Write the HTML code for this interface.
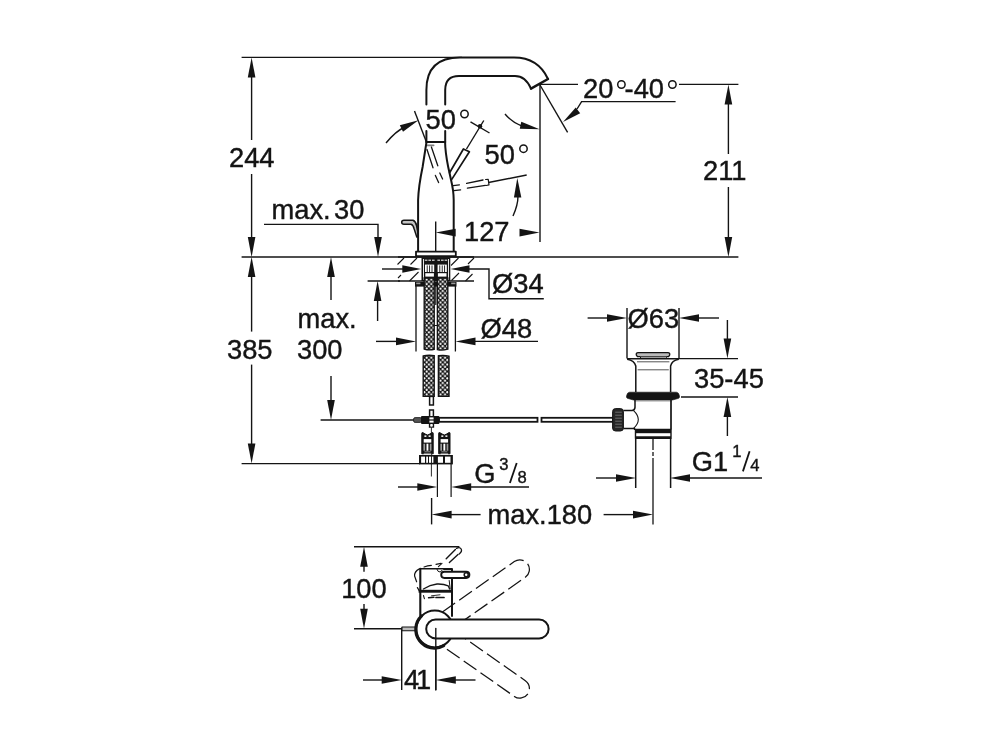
<!DOCTYPE html>
<html><head><meta charset="utf-8"><title>Dimensional drawing</title>
<style>
html,body{margin:0;padding:0;background:#fff;}
body{width:1000px;height:750px;overflow:hidden;}
svg{display:block;will-change:transform;}
text{font-family:"Liberation Sans",sans-serif;fill:#141414;stroke:#141414;stroke-width:0.4px;}
</style></head><body>
<svg width="1000" height="750" viewBox="0 0 1000 750">
<defs>
<pattern id="braid" x="0" y="0" width="4.6" height="4.6" patternUnits="userSpaceOnUse">
<rect width="4.6" height="4.6" fill="#141414"/>
<circle cx="1.15" cy="1.15" r="1.08" fill="#fff"/>
<circle cx="3.45" cy="3.45" r="1.08" fill="#fff"/>
</pattern>
</defs>
<rect width="1000" height="750" fill="#fff"/>
<g id="dims">
<line x1="241.6" y1="57.4" x2="462" y2="57.4" stroke="#141414" stroke-width="1.4" />
<line x1="251.6" y1="70" x2="251.6" y2="140" stroke="#141414" stroke-width="1.4" />
<polygon points="251.60,57.40 255.40,77.40 247.80,77.40" fill="#141414" stroke="none" stroke-width="0"/>
<text x="229" y="167" font-size="27.3" text-anchor="start" >244</text>
<line x1="251.6" y1="174" x2="251.6" y2="245" stroke="#141414" stroke-width="1.4" />
<polygon points="251.60,257.00 247.80,237.00 255.40,237.00" fill="#141414" stroke="none" stroke-width="0"/>
<line x1="241.6" y1="257" x2="738.4" y2="257" stroke="#141414" stroke-width="1.4" />
<polygon points="251.60,257.00 255.40,277.00 247.80,277.00" fill="#141414" stroke="none" stroke-width="0"/>
<line x1="251.6" y1="270" x2="251.6" y2="331.6" stroke="#141414" stroke-width="1.4" />
<text x="227" y="359" font-size="27.3" text-anchor="start" >385</text>
<line x1="251.6" y1="364.6" x2="251.6" y2="450" stroke="#141414" stroke-width="1.4" />
<polygon points="251.60,463.60 247.80,443.60 255.40,443.60" fill="#141414" stroke="none" stroke-width="0"/>
<line x1="241.6" y1="463.6" x2="420" y2="463.6" stroke="#141414" stroke-width="1.4" />
<text x="271.5" y="219.4" font-size="27.3" text-anchor="start" >max.</text>
<text x="334" y="219.4" font-size="27.3" text-anchor="start" >30</text>
<path d="M264 224.4 H378 V240" stroke="#141414" stroke-width="1.4" fill="none" />
<polygon points="378.00,257.00 374.20,237.00 381.80,237.00" fill="#141414" stroke="none" stroke-width="0"/>
<line x1="367.6" y1="281" x2="400" y2="281" stroke="#141414" stroke-width="1.4" />
<polygon points="377.60,281.00 381.40,301.00 373.80,301.00" fill="#141414" stroke="none" stroke-width="0"/>
<line x1="377.6" y1="295" x2="377.6" y2="321" stroke="#141414" stroke-width="1.4" />
<polygon points="331.00,257.00 334.80,277.00 327.20,277.00" fill="#141414" stroke="none" stroke-width="0"/>
<line x1="331" y1="270" x2="331" y2="300" stroke="#141414" stroke-width="1.4" />
<text x="297.5" y="328.4" font-size="27.3" text-anchor="start" >max.</text>
<text x="297" y="359.4" font-size="27.3" text-anchor="start" >300</text>
<line x1="331" y1="376" x2="331" y2="405" stroke="#141414" stroke-width="1.4" />
<polygon points="331.00,420.00 327.20,400.00 334.80,400.00" fill="#141414" stroke="none" stroke-width="0"/>
<line x1="320.6" y1="420" x2="414" y2="420" stroke="#141414" stroke-width="1.4" />
<line x1="540" y1="84.4" x2="578" y2="84.4" stroke="#141414" stroke-width="1.4" />
<line x1="679" y1="84.4" x2="738.4" y2="84.4" stroke="#141414" stroke-width="1.4" />
<polygon points="728.40,84.40 732.20,104.40 724.60,104.40" fill="#141414" stroke="none" stroke-width="0"/>
<line x1="728.4" y1="98" x2="728.4" y2="154" stroke="#141414" stroke-width="1.4" />
<text x="703" y="180" font-size="27.3" text-anchor="start" >211</text>
<line x1="728.4" y1="187" x2="728.4" y2="245" stroke="#141414" stroke-width="1.4" />
<polygon points="728.40,257.00 724.60,237.00 732.20,237.00" fill="#141414" stroke="none" stroke-width="0"/>
<text x="583" y="98" font-size="27.3" text-anchor="start" >20</text>
<text x="624.6" y="98" font-size="27.3" text-anchor="start" >-40</text>
<circle cx="621.4" cy="84.5" r="3.7" fill="none" stroke="#141414" stroke-width="1.5"/>
<circle cx="672.4" cy="84.5" r="3.7" fill="none" stroke="#141414" stroke-width="1.5"/>
<path d="M675.6 101.6 H581.6 L577 109" stroke="#141414" stroke-width="1.4" fill="none" />
<polygon points="563.00,122.00 575.76,107.47 580.19,113.14" fill="#141414" stroke="none" stroke-width="0"/>
<line x1="540" y1="85" x2="567.6" y2="132.4" stroke="#141414" stroke-width="1.4" />
<line x1="540" y1="85" x2="540" y2="242" stroke="#141414" stroke-width="1.4" />
<line x1="435.7" y1="221.6" x2="435.7" y2="252" stroke="#141414" stroke-width="1.4" />
<polygon points="435.70,232.60 455.70,228.80 455.70,236.40" fill="#141414" stroke="none" stroke-width="0"/>
<text x="464" y="241.4" font-size="27.3" text-anchor="start" >127</text>
<polygon points="539.50,232.60 519.50,236.40 519.50,228.80" fill="#141414" stroke="none" stroke-width="0"/>
<text x="425.5" y="129" font-size="27.3" text-anchor="start" >50</text>
<circle cx="464.5" cy="114" r="3.7" fill="none" stroke="#141414" stroke-width="1.5"/>
<line x1="414.5" y1="111" x2="426.2" y2="141.5" stroke="#141414" stroke-width="1.4" />
<path d="M386 143 Q 396 131 404 127.5" stroke="#141414" stroke-width="1.4" fill="none" />
<polygon points="418.50,120.20 403.00,131.76 399.84,125.29" fill="#141414" stroke="none" stroke-width="0"/>
<line x1="470.5" y1="121.8" x2="489.5" y2="133" stroke="#141414" stroke-width="1.4" />
<line x1="483.8" y1="120.5" x2="466.5" y2="149" stroke="#141414" stroke-width="1.4" />
<circle cx="480" cy="126.3" r="2.2" fill="#141414" stroke="#141414" stroke-width="0"/>
<path d="M505 114 Q 512 122.4 522 126" stroke="#141414" stroke-width="1.4" fill="none" />
<polygon points="539.60,129.30 519.76,128.86 521.30,121.63" fill="#141414" stroke="none" stroke-width="0"/>
<text x="484.5" y="163.6" font-size="27.3" text-anchor="start" >50</text>
<circle cx="523.5" cy="148.7" r="3.7" fill="none" stroke="#141414" stroke-width="1.5"/>
<line x1="488.5" y1="182.5" x2="526.7" y2="175" stroke="#141414" stroke-width="1.4" />
<path d="M513 216 Q 518 205 518 196" stroke="#141414" stroke-width="1.4" fill="none" />
<polygon points="517.30,178.00 521.34,197.43 513.94,197.56" fill="#141414" stroke="none" stroke-width="0"/>
<line x1="382" y1="269" x2="403" y2="269" stroke="#141414" stroke-width="1.4" />
<polygon points="421.30,269.00 402.30,272.80 402.30,265.20" fill="#141414" stroke="none" stroke-width="0"/>
<polygon points="450.50,269.00 469.50,265.20 469.50,272.80" fill="#141414" stroke="none" stroke-width="0"/>
<path d="M468 269 H489 V298.7 H543.8" stroke="#141414" stroke-width="1.4" fill="none" />
<text x="492" y="293" font-size="27.3" text-anchor="start" >&#216;34</text>
<line x1="376" y1="341.4" x2="397" y2="341.4" stroke="#141414" stroke-width="1.4" />
<polygon points="416.00,341.40 396.00,345.20 396.00,337.60" fill="#141414" stroke="none" stroke-width="0"/>
<polygon points="455.50,341.40 475.50,337.60 475.50,345.20" fill="#141414" stroke="none" stroke-width="0"/>
<line x1="474" y1="341.4" x2="538" y2="341.4" stroke="#141414" stroke-width="1.4" />
<text x="480.5" y="337.6" font-size="27.3" text-anchor="start" >&#216;48</text>
<line x1="398" y1="487" x2="418" y2="487" stroke="#141414" stroke-width="1.4" />
<polygon points="437.30,487.00 417.30,490.80 417.30,483.20" fill="#141414" stroke="none" stroke-width="0"/>
<polygon points="451.20,487.00 471.20,483.20 471.20,490.80" fill="#141414" stroke="none" stroke-width="0"/>
<line x1="470" y1="487" x2="529" y2="487" stroke="#141414" stroke-width="1.4" />
<text x="474.2" y="482.6" font-size="27.3" text-anchor="start" >G</text>
<text x="499.3" y="469.6" font-size="16.6" text-anchor="start" >3</text>
<line x1="509.9" y1="483.0" x2="516.7" y2="463.0" stroke="#141414" stroke-width="1.8" />
<text x="517.4" y="482.7" font-size="16.6" text-anchor="start" >8</text>
<line x1="431.6" y1="498" x2="431.6" y2="524.4" stroke="#141414" stroke-width="1.4" />
<polygon points="431.60,514.60 451.60,510.80 451.60,518.40" fill="#141414" stroke="none" stroke-width="0"/>
<line x1="450" y1="514.6" x2="480.6" y2="514.6" stroke="#141414" stroke-width="1.4" />
<text x="487.5" y="524" font-size="27.3" text-anchor="start" >max.180</text>
<line x1="603.6" y1="514.6" x2="634" y2="514.6" stroke="#141414" stroke-width="1.4" />
<polygon points="653.00,514.60 633.00,518.40 633.00,510.80" fill="#141414" stroke="none" stroke-width="0"/>
<line x1="587.6" y1="318" x2="608" y2="318" stroke="#141414" stroke-width="1.4" />
<polygon points="627.00,318.00 607.00,321.80 607.00,314.20" fill="#141414" stroke="none" stroke-width="0"/>
<polygon points="679.00,318.00 699.00,314.20 699.00,321.80" fill="#141414" stroke="none" stroke-width="0"/>
<line x1="698" y1="318" x2="719" y2="318" stroke="#141414" stroke-width="1.4" />
<line x1="627" y1="308" x2="627" y2="358.6" stroke="#141414" stroke-width="1.4" />
<line x1="679" y1="308" x2="679" y2="358.6" stroke="#141414" stroke-width="1.4" />
<text x="627.5" y="328" font-size="27.3" text-anchor="start" >&#216;63</text>
<line x1="727.4" y1="320" x2="727.4" y2="340" stroke="#141414" stroke-width="1.4" />
<polygon points="727.40,358.60 723.60,338.60 731.20,338.60" fill="#141414" stroke="none" stroke-width="0"/>
<line x1="679" y1="358.6" x2="738" y2="358.6" stroke="#141414" stroke-width="1.4" />
<line x1="681" y1="397" x2="738" y2="397" stroke="#141414" stroke-width="1.4" />
<polygon points="727.40,397.00 731.20,417.00 723.60,417.00" fill="#141414" stroke="none" stroke-width="0"/>
<line x1="727.4" y1="415" x2="727.4" y2="436" stroke="#141414" stroke-width="1.4" />
<text x="694" y="388.4" font-size="27.3" text-anchor="start" >35-45</text>
<line x1="596" y1="478" x2="617" y2="478" stroke="#141414" stroke-width="1.4" />
<polygon points="636.00,478.00 616.00,481.80 616.00,474.20" fill="#141414" stroke="none" stroke-width="0"/>
<polygon points="670.00,478.00 690.00,474.20 690.00,481.80" fill="#141414" stroke="none" stroke-width="0"/>
<line x1="689" y1="478" x2="762" y2="478" stroke="#141414" stroke-width="1.4" />
<text x="691.7" y="471.0" font-size="27.3" text-anchor="start" >G1</text>
<text x="732.2" y="457.4" font-size="16.6" text-anchor="start" >1</text>
<line x1="742.9" y1="471.4" x2="749.6" y2="451.2" stroke="#141414" stroke-width="1.8" />
<text x="750.2" y="470.9" font-size="16.6" text-anchor="start" >4</text>
<line x1="354" y1="546.8" x2="459.4" y2="546.8" stroke="#141414" stroke-width="1.4" />
<polygon points="364.00,546.80 367.80,566.80 360.20,566.80" fill="#141414" stroke="none" stroke-width="0"/>
<line x1="364" y1="560" x2="364" y2="571.7" stroke="#141414" stroke-width="1.4" />
<text x="341.2" y="597.7" font-size="27.3" text-anchor="start" >100</text>
<line x1="364" y1="604" x2="364" y2="612" stroke="#141414" stroke-width="1.4" />
<polygon points="364.00,628.70 360.20,608.70 367.80,608.70" fill="#141414" stroke="none" stroke-width="0"/>
<line x1="354" y1="628.7" x2="402" y2="628.7" stroke="#141414" stroke-width="1.4" />
<line x1="401.7" y1="627.6" x2="401.7" y2="690" stroke="#141414" stroke-width="1.4" />
<line x1="435.8" y1="628.4" x2="435.8" y2="690" stroke="#141414" stroke-width="1.4" />
<line x1="363" y1="680" x2="384" y2="680" stroke="#141414" stroke-width="1.4" />
<polygon points="401.70,680.00 381.70,683.80 381.70,676.20" fill="#141414" stroke="none" stroke-width="0"/>
<polygon points="435.80,680.00 455.80,676.20 455.80,683.80" fill="#141414" stroke="none" stroke-width="0"/>
<line x1="455" y1="680" x2="475.5" y2="680" stroke="#141414" stroke-width="1.4" />
<text x="404" y="689.3" font-size="27.3" text-anchor="start" >4<tspan dx="-3.2">1</tspan></text>
</g>
<g id="faucet" stroke-linecap="round" stroke-linejoin="round">
<path d="M426.4 142 V131" stroke="#141414" stroke-width="2.0" fill="none" />
<path d="M426.4 104.5 V90 Q426.4 57.6 460 57.6 H514 Q538 57.6 548 79" stroke="#141414" stroke-width="2.0" fill="none" />
<path d="M445.2 142 V131" stroke="#141414" stroke-width="2.0" fill="none" />
<path d="M445.2 104.5 V90 Q445.2 76 459 76 H515 Q525.5 76 531 88.6" stroke="#141414" stroke-width="2.0" fill="none" />
<line x1="531" y1="88.6" x2="548" y2="79" stroke="#141414" stroke-width="2.4" />
<line x1="426.4" y1="142" x2="445.2" y2="142" stroke="#141414" stroke-width="2.0" />
<path d="M426.5 142 L422.6 167 Q418.6 186 418.1 200 V252" stroke="#141414" stroke-width="2.0" fill="none" />
<path d="M445.1 142 Q445.2 152 448.2 167 L451 179.8 Q453.7 191 453.7 200 V252" stroke="#141414" stroke-width="2.0" fill="none" />
<rect x="416.0" y="251.6" width="39.8" height="4.6" fill="#fff" stroke="#141414" stroke-width="1.8" />
<path d="M449.6 172.8 L463.4 149 L469.4 151.8 L451.6 179.6" stroke="#141414" stroke-width="1.7" fill="none" />
<line x1="427" y1="145.3" x2="433.6" y2="145.3" stroke="#141414" stroke-width="1.8" stroke-opacity="0.55"/>
<line x1="427.0" y1="149.5" x2="433.0" y2="167.8" stroke="#141414" stroke-width="1.3" />
<line x1="431.4" y1="147.0" x2="437.8" y2="165.8" stroke="#141414" stroke-width="1.3" />
<line x1="435.4" y1="175.4" x2="438.6" y2="182.6" stroke="#141414" stroke-width="1.3" />
<line x1="439.8" y1="173.0" x2="442.6" y2="179.0" stroke="#141414" stroke-width="1.3" />
<line x1="453.2" y1="185.7" x2="459.4" y2="184.8" stroke="#141414" stroke-width="1.3" />
<line x1="466.6" y1="183.4" x2="483.0" y2="180.0" stroke="#141414" stroke-width="1.3" />
<line x1="453.8" y1="190.7" x2="460.6" y2="189.8" stroke="#141414" stroke-width="1.3" />
<line x1="467.4" y1="188.2" x2="485.4" y2="185.4" stroke="#141414" stroke-width="1.3" />
<path d="M485.6 179.5 L488.2 179.3 L489.0 184.9 L486.2 185.5" stroke="#141414" stroke-width="1.2" fill="none" />
<path d="M418 237 C417.6 228 417 221.8 413 220.2 H404 Q401.7 220.2 401.7 222.2 Q401.7 224.2 404 224.2 H411 Q413.2 224.8 414.2 229 L416.8 237" stroke="#141414" stroke-width="1.5" fill="#c4c4c4" />
</g>
<g id="under">
<line x1="398" y1="257" x2="474" y2="257" stroke="#141414" stroke-width="1.6" />
<line x1="398" y1="281" x2="474" y2="281" stroke="#141414" stroke-width="1.6" />
<line x1="397.5" y1="264.5" x2="404" y2="258" stroke="#141414" stroke-width="1.1" />
<line x1="410.5" y1="264.5" x2="417" y2="258" stroke="#141414" stroke-width="1.1" />
<line x1="398" y1="278" x2="401" y2="275" stroke="#141414" stroke-width="1.1" />
<line x1="409.5" y1="281" x2="418.5" y2="272" stroke="#141414" stroke-width="1.1" />
<line x1="451" y1="265.5" x2="458.5" y2="258" stroke="#141414" stroke-width="1.1" />
<line x1="468" y1="264" x2="474" y2="258" stroke="#141414" stroke-width="1.1" />
<line x1="451.5" y1="280.5" x2="459" y2="273" stroke="#141414" stroke-width="1.1" />
<line x1="465.5" y1="281" x2="472.5" y2="274" stroke="#141414" stroke-width="1.1" />
<rect x="421.5" y="257.5" width="28.8" height="23.5" fill="#141414" stroke="none" stroke-width="0" />
<rect x="423.0" y="259" width="0.9" height="21" fill="#fff" stroke="none" stroke-width="0" />
<rect x="448.0" y="259" width="0.9" height="21" fill="#fff" stroke="none" stroke-width="0" />
<line x1="424.8" y1="260.2" x2="434.6" y2="260.2" stroke="#fff" stroke-width="1" stroke-dasharray="2.6 1"/>
<line x1="437.4" y1="260.2" x2="447.2" y2="260.2" stroke="#fff" stroke-width="1" stroke-dasharray="2.6 1"/>
<rect x="425.0" y="264.6" width="9.2" height="7.4" fill="#fff" stroke="none" stroke-width="0" />
<rect x="426.75" y="265.4" width="0.9" height="6.6" fill="#141414" stroke="none" stroke-width="0" />
<rect x="429.15000000000003" y="265.4" width="0.9" height="6.6" fill="#141414" stroke="none" stroke-width="0" />
<rect x="431.55" y="265.4" width="0.9" height="6.6" fill="#141414" stroke="none" stroke-width="0" />
<rect x="425.3" y="273.2" width="8.6" height="3.4" fill="#fff" stroke="none" stroke-width="0" />
<rect x="437.6" y="264.6" width="9.2" height="7.4" fill="#fff" stroke="none" stroke-width="0" />
<rect x="439.35" y="265.4" width="0.9" height="6.6" fill="#141414" stroke="none" stroke-width="0" />
<rect x="441.75000000000006" y="265.4" width="0.9" height="6.6" fill="#141414" stroke="none" stroke-width="0" />
<rect x="444.15000000000003" y="265.4" width="0.9" height="6.6" fill="#141414" stroke="none" stroke-width="0" />
<rect x="437.90000000000003" y="273.2" width="8.6" height="3.4" fill="#fff" stroke="none" stroke-width="0" />
<rect x="415" y="282" width="41.5" height="4.6" fill="#141414" stroke="none" stroke-width="0" />
<rect x="416.2" y="282.6" width="4.2" height="1.6" fill="#9a9a9a" stroke="none" stroke-width="0" />
<rect x="451.2" y="282.6" width="4.2" height="1.6" fill="#9a9a9a" stroke="none" stroke-width="0" />
<line x1="416" y1="286" x2="416" y2="351.5" stroke="#141414" stroke-width="1.3" />
<line x1="455.4" y1="286" x2="455.4" y2="351.5" stroke="#141414" stroke-width="1.3" />
<path d="M424.2 278 H434.2 V349.4 Q429 350.6 424.2 349 Z" stroke="#141414" stroke-width="1.4" fill="url(#braid)" />
<path d="M437.4 278 H447.8 V349.2 Q442 350.8 437.4 349.6 Z" stroke="#141414" stroke-width="1.4" fill="url(#braid)" />
<line x1="435.8" y1="286" x2="435.8" y2="305" stroke="#141414" stroke-width="1.2" />
<line x1="434.2" y1="325.5" x2="437.4" y2="325.5" stroke="#141414" stroke-width="1.0" />
<path d="M423.2 356 Q428 354.6 434.2 355.6 V396.4 H423.2 Z" stroke="#141414" stroke-width="1.4" fill="url(#braid)" />
<path d="M438.4 355.8 Q444 354.8 449 356.2 V396.4 H438.4 Z" stroke="#141414" stroke-width="1.4" fill="url(#braid)" />
<rect x="429.6" y="396.4" width="3.8" height="8.6" fill="#fff" stroke="#141414" stroke-width="1.5" />
<rect x="429.6" y="410" width="3.8" height="17" fill="#fff" stroke="#141414" stroke-width="1.5" />
<rect x="439" y="417.8" width="98.5" height="4.0" fill="#fff" stroke="#141414" stroke-width="1.8" />
<rect x="541.5" y="417.8" width="71.5" height="4.0" fill="#fff" stroke="#141414" stroke-width="1.8" />
<rect x="413.6" y="417.6" width="8" height="4.8" fill="#555" stroke="#141414" stroke-width="0.8" rx="1.5"/>
<rect x="421" y="416" width="18.4" height="8" fill="#141414" stroke="none" stroke-width="0" rx="1"/>
<rect x="429.4" y="417.4" width="4.2" height="2.0" fill="#fff" stroke="none" stroke-width="0" />
<rect x="429.4" y="420.6" width="4.2" height="2.0" fill="#fff" stroke="none" stroke-width="0" />
<rect x="430.6" y="425" width="1.8" height="1.6" fill="#fff" stroke="none" stroke-width="0" />
<line x1="431.4" y1="427.5" x2="431.4" y2="476.5" stroke="#141414" stroke-width="0.9" />
<path d="M421.8 433.2 Q421.8 432.3 422.8 432.6 L425.2 434.0 L427.5 435.0 L429.8 434.0 L432.2 432.6 Q433.2 432.3 433.2 433.2 V453.8 H421.8 Z" stroke="#141414" stroke-width="1.0" fill="#141414" />
<rect x="424.40000000000003" y="435.4" width="2.0" height="1.5" fill="#fff" stroke="none" stroke-width="0" />
<rect x="428.59999999999997" y="435.4" width="2.0" height="1.5" fill="#fff" stroke="none" stroke-width="0" />
<rect x="423.7" y="439.1" width="7.6000000000000005" height="3.5" fill="#fff" stroke="none" stroke-width="0" />
<rect x="423.40000000000003" y="443.7" width="1.7" height="7.0" fill="#9c9c9c" stroke="none" stroke-width="0" />
<rect x="426.5" y="443.7" width="1.9" height="7.0" fill="#fff" stroke="none" stroke-width="0" />
<rect x="429.8" y="443.7" width="1.7" height="7.0" fill="#9c9c9c" stroke="none" stroke-width="0" />
<rect x="424.40000000000003" y="451.3" width="6.2" height="1.0" fill="#8a8a8a" stroke="none" stroke-width="0" />
<rect x="423.8" y="453.6" width="7.4" height="1.0" fill="#fff" stroke="none" stroke-width="0" />
<path d="M438.7 433.2 Q438.7 432.3 439.7 432.6 L442.09999999999997 434.0 L444.34999999999997 435.0 L446.6 434.0 L449.0 432.6 Q450.0 432.3 450.0 433.2 V453.8 H438.7 Z" stroke="#141414" stroke-width="1.0" fill="#141414" />
<rect x="441.3" y="435.4" width="2.0" height="1.5" fill="#fff" stroke="none" stroke-width="0" />
<rect x="445.4" y="435.4" width="2.0" height="1.5" fill="#fff" stroke="none" stroke-width="0" />
<rect x="440.59999999999997" y="439.1" width="7.500000000000001" height="3.5" fill="#fff" stroke="none" stroke-width="0" />
<rect x="440.3" y="443.7" width="1.7" height="7.0" fill="#9c9c9c" stroke="none" stroke-width="0" />
<rect x="443.4" y="443.7" width="1.9" height="7.0" fill="#fff" stroke="none" stroke-width="0" />
<rect x="446.6" y="443.7" width="1.7" height="7.0" fill="#9c9c9c" stroke="none" stroke-width="0" />
<rect x="441.3" y="451.3" width="6.1000000000000005" height="1.0" fill="#8a8a8a" stroke="none" stroke-width="0" />
<rect x="440.7" y="453.6" width="7.300000000000001" height="1.0" fill="#fff" stroke="none" stroke-width="0" />
<rect x="419.0" y="455.0" width="33.9" height="9.4" fill="#141414" stroke="none" stroke-width="0" />
<rect x="421.1" y="456.6" width="3.9" height="6.2" fill="#fff" stroke="none" stroke-width="0" />
<rect x="426.2" y="456.6" width="1.8" height="6.2" fill="#fff" stroke="none" stroke-width="0" />
<rect x="429.0" y="456.6" width="2.0" height="6.2" fill="#fff" stroke="none" stroke-width="0" />
<rect x="431.9" y="456.6" width="1.5" height="6.2" fill="#fff" stroke="none" stroke-width="0" />
<rect x="437.9" y="456.6" width="5.1" height="6.2" fill="#fff" stroke="none" stroke-width="0" />
<rect x="445.0" y="456.6" width="5.5" height="6.2" fill="#fff" stroke="none" stroke-width="0" />
<line x1="437.4" y1="464" x2="437.4" y2="497" stroke="#141414" stroke-width="1.2" />
<line x1="451.1" y1="464" x2="451.1" y2="497" stroke="#141414" stroke-width="1.2" />
</g>
<g id="drain" stroke-linejoin="round">
<path d="M638.2 352.6 H667.8 Q670.4 352.8 669.6 355.2 L668.6 356.6 H637.4 L636.4 355.2 Q635.6 352.8 638.2 352.6 Z" stroke="#141414" stroke-width="1.3" fill="#bbb" />
<path d="M640 356.8 L641 358.2 H665.6 L667 356.8" stroke="#141414" stroke-width="1.0" fill="#ddd" />
<line x1="627" y1="358.7" x2="679" y2="358.7" stroke="#141414" stroke-width="1.6" />
<path d="M627.2 359.2 Q634.4 360.4 635.8 366 V392" stroke="#141414" stroke-width="1.5" fill="none" />
<path d="M678.8 359.2 Q671.8 360.4 670.6 366 V392" stroke="#141414" stroke-width="1.5" fill="none" />
<line x1="637" y1="361.8" x2="669.4" y2="361.8" stroke="#555" stroke-width="1"/>
<line x1="637.6" y1="369.8" x2="668.8" y2="369.8" stroke="#555" stroke-width="1"/>
<path d="M629.6 392.2 H676.4 Q678.6 392.4 679.2 395 L679.6 397 Q679.4 398.4 677 398.8 L672.6 400 H633.4 L629 398.8 Q626.6 398.4 626.4 397 L626.8 395 Q627.4 392.4 629.6 392.2 Z" stroke="#141414" stroke-width="0.6" fill="#141414" />
<line x1="634" y1="400.9" x2="672" y2="400.9" stroke="#777" stroke-width="0.9"/>
<path d="M635 400 V407.4 Q634.8 410.4 632 410.5 H623.4" stroke="#141414" stroke-width="1.5" fill="none" />
<path d="M671 400 V429.4" stroke="#141414" stroke-width="1.7" fill="none" />
<path d="M623.4 428.5 H634.6 V430" stroke="#141414" stroke-width="1.5" fill="none" />
<path d="M633.6 410.6 Q643 419.5 633.6 428.4" stroke="#141414" stroke-width="1.1" fill="none" />
<rect x="612.6" y="408.6" width="10.8" height="22.4" fill="#262626" stroke="#141414" stroke-width="1.0" rx="3"/>
<line x1="615.2" y1="412.2" x2="621.8" y2="412.2" stroke="#7d7d7d" stroke-width="0.8"/>
<line x1="615.2" y1="415.2" x2="621.8" y2="415.2" stroke="#7d7d7d" stroke-width="0.8"/>
<line x1="615.2" y1="418.2" x2="621.8" y2="418.2" stroke="#7d7d7d" stroke-width="0.8"/>
<line x1="615.2" y1="421.2" x2="621.8" y2="421.2" stroke="#7d7d7d" stroke-width="0.8"/>
<line x1="615.2" y1="424.2" x2="621.8" y2="424.2" stroke="#7d7d7d" stroke-width="0.8"/>
<line x1="615.2" y1="427.2" x2="621.8" y2="427.2" stroke="#7d7d7d" stroke-width="0.8"/>
<rect x="635.5" y="429.5" width="35.5" height="8.8" fill="#fff" stroke="#141414" stroke-width="1.4" />
<rect x="635.5" y="429.2" width="35.5" height="4.0" fill="#141414" stroke="none" stroke-width="0" />
<line x1="635.5" y1="437.4" x2="671" y2="437.4" stroke="#141414" stroke-width="2.2" />
<line x1="635.7" y1="438" x2="635.7" y2="488" stroke="#141414" stroke-width="1.5" />
<line x1="670.6" y1="438" x2="670.6" y2="488" stroke="#141414" stroke-width="1.5" />
<line x1="653" y1="438.5" x2="653" y2="450" stroke="#141414" stroke-width="1.3" />
<line x1="653" y1="452" x2="653" y2="456" stroke="#141414" stroke-width="1.3" />
<line x1="653" y1="458" x2="653" y2="524.4" stroke="#141414" stroke-width="1.3" />
</g>
<g id="topview" stroke-linecap="round" stroke-linejoin="round">
<g transform="rotate(-35 434.8 629.0)">
<path d="M450.8 619.4 H538.6 A9.6 9.6 0 0 1 538.6 638.6 H450.8" stroke="#141414" stroke-width="1.25" fill="none" stroke-dasharray="15.5 5" stroke-linecap="butt"/>
</g>
<g transform="rotate(35 434.8 629.0)">
<path d="M450.8 619.4 H538.6 A9.6 9.6 0 0 1 538.6 638.6 H450.8" stroke="#141414" stroke-width="1.25" fill="none" stroke-dasharray="15.5 5" stroke-linecap="butt"/>
</g>
<path d="M420.3 616 V568.8" stroke="#141414" stroke-width="2.1" fill="none" />
<path d="M420.3 568.8 H444" stroke="#141414" stroke-width="1.5" fill="none" />
<path d="M444 568.9 H452 V616" stroke="#141414" stroke-width="2.0" fill="none" />
<rect x="418.6" y="589.8" width="33.8" height="2.9" fill="#141414" stroke="none" stroke-width="0" />
<line x1="417.4" y1="587.6" x2="419.2" y2="590.6" stroke="#141414" stroke-width="1.2" />
<path d="M423.4 589 Q430 584.8 437 584 Q444 583.8 448.2 585.8 L449.6 589" stroke="#141414" stroke-width="1.3" fill="none" />
<line x1="449.2" y1="580.5" x2="450.2" y2="589" stroke="#141414" stroke-width="1.0" />
<line x1="423.5" y1="595.6" x2="424.4" y2="598.6" stroke="#141414" stroke-width="1.1" />
<line x1="428.5" y1="597.8" x2="434" y2="597.3" stroke="#141414" stroke-width="1.4" />
<line x1="436" y1="597.5" x2="444" y2="597.5" stroke="#141414" stroke-width="1.7" />
<line x1="431.5" y1="595.8" x2="440" y2="594.8" stroke="#141414" stroke-width="0.9" />
<path d="M419.4 568.9 Q414.2 571.6 414.6 576 L416.6 581.8" stroke="#141414" stroke-width="1.2" fill="none" />
<path d="M424 567 Q427.5 565.8 431.4 565.4" stroke="#141414" stroke-width="1.1" fill="none" />
<path d="M436 564.4 L441 563.4" stroke="#141414" stroke-width="1.1" fill="none" />
<path d="M438.4 566.6 L442 563.4" stroke="#141414" stroke-width="1.1" fill="none" />
<path d="M437 569.4 Q437.6 572 440 572 Q441.6 571.6 442 570.4" stroke="#141414" stroke-width="1.0" fill="none" />
<path d="M446.2 558.8 L455.4 549.6" stroke="#141414" stroke-width="1.4" fill="none" />
<path d="M449.4 562.4 L458 554.4" stroke="#141414" stroke-width="1.4" fill="none" />
<path d="M456.6 548.4 Q459.6 546.6 461.2 549 Q462.4 551.4 459.2 554" stroke="#141414" stroke-width="1.3" fill="none" />
<rect x="441.2" y="571.7" width="28.2" height="6.3" fill="#fff" stroke="#141414" stroke-width="1.9" rx="3.15"/>
<circle cx="466.2" cy="574.85" r="2.0" fill="#fff" stroke="#141414" stroke-width="1.5"/>
<line x1="444.6" y1="569.5" x2="451.6" y2="569.5" stroke="#141414" stroke-width="1.2" />
<rect x="402" y="627.0" width="15" height="3.8" fill="#bdbdbd" stroke="#141414" stroke-width="1.1" />
<circle cx="434.8" cy="629.0" r="18.4" fill="#fff" stroke="#141414" stroke-width="2.0"/>
<path d="M421.6 615.8 A18.7 18.7 0 0 0 443.8 645.6" stroke="#141414" stroke-width="3.0" fill="none" />
<rect x="426.2" y="619.4" width="122.4" height="19.0" fill="#fff" stroke="#141414" stroke-width="2.0" rx="9.5"/>
<line x1="435.8" y1="628.4" x2="435.8" y2="690" stroke="#141414" stroke-width="1.4" />
</g>
</svg>
</body></html>
